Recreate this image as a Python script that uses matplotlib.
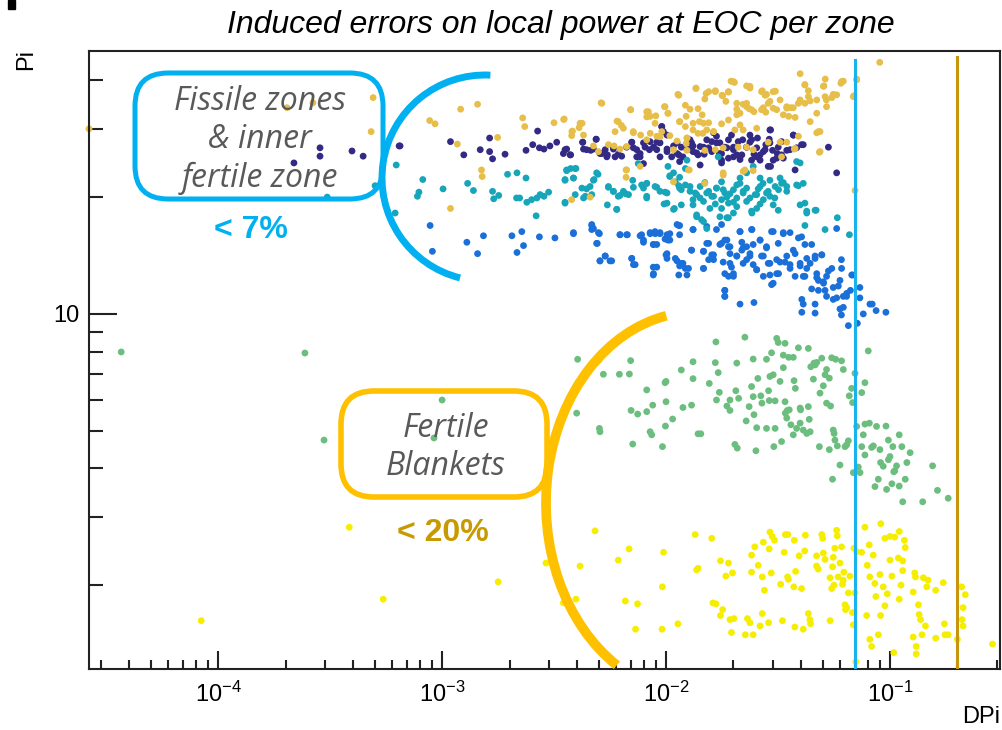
import numpy as np
import matplotlib
matplotlib.use('Agg')
import matplotlib.pyplot as plt
from matplotlib.patches import FancyBboxPatch, Arc, Rectangle
from matplotlib.ticker import LogLocator, NullFormatter, FuncFormatter

plt.rcParams['font.family'] = ['Liberation Sans', 'DejaVu Sans']
plt.rcParams['mathtext.fontset'] = 'custom'
plt.rcParams['mathtext.rm'] = 'Liberation Sans'

# (DPi, Pi) per zone
fissile_outer = [
    (0.00088, 31.5), (0.00093, 30.9), (0.00121, 33.7), (0.00144, 34.7), (0.00229, 32.0), (0.00234, 30.4),
    (0.00316, 31.1), (0.00349, 31.7), (0.00422, 31.0), (0.00409, 30.2), (0.00382, 29.6), (0.00379, 28.8),
    (0.00513, 35.0), (0.00695, 33.6), (0.00604, 31.4), (0.00632, 30.6), (0.00834, 33.2), (0.0082, 32.2),
    (0.0090, 32.4), (0.0102, 32.9), (0.00984, 34.2), (0.0113, 36.8), (0.0136, 38.1), (0.0155, 37.4),
    (0.0166, 37.6), (0.0149, 35.8), (0.0122, 34.5), (0.0128, 33.7), (0.0139, 33.8), (0.0145, 32.6),
    (0.0123, 32.3), (0.0115, 31.3), (0.0132, 31.0), (0.0147, 31.0), (0.0178, 36.6), (0.0190, 37.3),
    (0.0195, 39.8), (0.0202, 39.5), (0.0229, 38.7), (0.0237, 38.2), (0.0269, 37.6), (0.0281, 36.8),
    (0.0308, 37.5), (0.0397, 41.6), (0.0417, 39.0), (0.0432, 37.6), (0.0514, 40.3), (0.0507, 38.7),
    (0.0604, 39.3), (0.0619, 39.8), (0.0710, 40.3), (0.0900, 44.5), (0.0690, 36.5), (0.0578, 36.7),
    (0.0550, 36.1), (0.0520, 35.6), (0.0471, 35.6), (0.0440, 35.4), (0.0417, 34.9), (0.0397, 35.6),
    (0.0390, 34.9), (0.0361, 34.0), (0.0346, 33.9), (0.0334, 32.6), (0.0377, 32.1), (0.0353, 32.3),
    (0.0291, 35.3), (0.0301, 33.9), (0.0267, 33.6), (0.0279, 33.1), (0.0247, 33.2), (0.0235, 33.8),
    (0.0229, 34.9), (0.0221, 34.7), (0.0207, 33.7), (0.0207, 32.6), (0.0214, 30.7), (0.0203, 29.8),
    (0.0190, 31.6), (0.0177, 30.9), (0.0163, 29.5), (0.0152, 29.8), (0.0139, 29.2), (0.0132, 29.8),
    (0.0124, 28.4), (0.0123, 27.5), (0.0112, 27.9), (0.0104, 28.8), (0.00957, 29.5), (0.0091, 28.7),
    (0.0085, 29.2), (0.0082, 28.1), (0.0077, 28.9), (0.00715, 29.3), (0.00667, 27.0), (0.00623, 26.6),
    (0.00586, 27.1), (0.00553, 27.3), (0.00499, 26.2), (0.00474, 27.1), (0.0390, 28.7), (0.0374, 26.6),
    (0.0346, 27.7), (0.0323, 27.7), (0.0286, 27.7), (0.0245, 26.5), (0.0229, 26.9), (0.0210, 26.9),
    (0.0180, 26.8), (0.0166, 26.5), (0.0149, 26.4), (0.0124, 26.4), (0.0108, 26.5), (0.0487, 29.5),
    (0.0471, 29.3), (0.0484, 26.1), (0.0698, 20.8), (0.0245, 23.4), (0.0221, 23.3), (0.0180, 22.8),
    (0.0149, 21.7), (0.0126, 23.5), (0.0108, 21.9), (0.00667, 23.5), (0.00458, 20.0), (0.00379, 19.7),
    (0.00150, 23.5), (0.00151, 22.6), (0.00109, 18.7), (0.00117, 27.4), (0.00177, 28.5), (0.000203, 34.0),
    (0.000265, 35.0), (0.000492, 36.1), (0.000482, 29.5), (0.0000265, 30.0),
    (0.00351, 31.8), (0.00380, 29.5), (0.00413, 31.0), (0.00428, 28.9), (0.00517, 34.9), (0.00592, 29.5),
    (0.00612, 31.3), (0.00645, 30.1), (0.00695, 33.6), (0.00714, 29.5), (0.0082, 33.2), (0.00849, 32.3),
    (0.00893, 31.0), (0.0094, 28.6), (0.0099, 34.2), (0.0102, 32.9), (0.0114, 36.6), (0.0115, 31.3),
    (0.0122, 30.4), (0.0124, 28.4), (0.0136, 38.2), (0.0141, 31.3), (0.0146, 29.2), (0.0151, 37.0),
    (0.0155, 31.1), (0.0163, 29.5), (0.0166, 37.4), (0.0179, 36.5), (0.0185, 35.3), (0.0190, 37.4),
    (0.0200, 39.7), (0.0207, 34.9), (0.0214, 32.9), (0.0221, 29.8), (0.0229, 34.2), (0.0237, 38.6),
    (0.0241, 33.6), (0.0254, 30.1), (0.0267, 37.4), (0.0277, 36.6), (0.0272, 34.0), (0.0286, 34.9),
    (0.0301, 37.4), (0.0312, 33.6), (0.0323, 35.6), (0.0346, 34.2), (0.0370, 34.0), (0.0397, 35.3),
    (0.0417, 38.9), (0.0432, 36.3), (0.0440, 31.3), (0.0471, 32.9), (0.0479, 29.5), (0.0504, 38.6),
    (0.0513, 36.3), (0.0521, 34.2), (0.0558, 36.8), (0.0608, 39.7), (0.0686, 36.3), (0.0710, 40.1),
    (0.0487, 26.2), (0.0377, 26.7), (0.0328, 25.4), (0.00766, 24.0), (0.00663, 23.5), (0.00663, 22.5),
    (0.0127, 23.5), (0.0180, 23.1), (0.0225, 23.5),
]

fissile_inner = [
    (6.49e-4, 27.1), (1.09e-3, 27.8), (1.25e-3, 25.7), (1.48e-3, 26.5), (1.63e-3, 28.4), (1.63e-3, 26.2),
    (1.68e-3, 25.1), (1.91e-3, 25.8), (2.37e-3, 26.4), (2.54e-3, 27.3), (2.67e-3, 29.6), (2.72e-3, 26.8),
    (2.85e-3, 26.6), (3.03e-3, 27.1), (3.25e-3, 27.7), (3.48e-3, 25.9), (3.60e-3, 26.6), (3.75e-3, 25.7),
    (4.25e-3, 27.7), (4.28e-3, 26.6), (4.61e-3, 26.4), (4.87e-3, 28.2), (5.07e-3, 25.9), (5.35e-3, 26.5),
    (5.47e-3, 25.7), (5.92e-3, 25.4), (6.34e-3, 25.5), (7.03e-3, 27.7), (7.40e-3, 25.4), (7.66e-3, 25.9),
    (7.93e-3, 24.4), (8.43e-3, 26.5), (8.79e-3, 26.9), (9.09e-3, 27.7), (9.57e-3, 30.4), (9.66e-3, 29.5),
    (1.01e-2, 26.2), (1.08e-2, 27.1), (1.14e-2, 25.7), (1.19e-2, 25.4), (1.27e-2, 26.6), (1.32e-2, 27.1),
    (1.37e-2, 26.0), (1.42e-2, 27.0), (1.48e-2, 25.8), (1.55e-2, 26.8), (1.63e-2, 29.3), (1.68e-2, 28.7),
    (1.73e-2, 25.9), (1.77e-2, 24.9), (1.87e-2, 26.8), (1.90e-2, 28.1), (1.96e-2, 28.9), (2.00e-2, 26.9),
    (2.07e-2, 25.7), (2.14e-2, 25.0), (2.20e-2, 28.1), (2.29e-2, 26.9), (2.37e-2, 27.7), (2.47e-2, 25.8),
    (2.56e-2, 28.4), (2.63e-2, 24.9), (2.79e-2, 27.3), (2.93e-2, 29.8), (2.89e-2, 28.2), (2.99e-2, 26.4),
    (3.14e-2, 25.9), (2.93e-2, 24.0), (3.12e-2, 25.2), (3.28e-2, 27.8), (3.46e-2, 26.4), (3.71e-2, 28.9),
    (3.83e-2, 26.8), (4.10e-2, 27.3), (3.77e-2, 23.5), (5.31e-2, 26.9), (5.78e-2, 23.1), (1.01e-2, 28.9),
    (1.12e-2, 27.6), (1.28e-2, 28.1), (7.15e-3, 26.8), (7.93e-3, 27.6), (5.82e-3, 26.9), (9.40e-3, 25.4),
    (2.00e-2, 25.4), (1.60e-2, 27.8), (2.72e-2, 26.2), (3.34e-2, 25.2), (2.37e-2, 28.9), (1.74e-2, 27.6),
    (2.54e-2, 25.4), (2.85e-4, 26.8), (2.85e-4, 25.5), (3.96e-4, 26.3), (4.44e-4, 25.5), (2.18e-4, 24.5),
    (6.43e-4, 27.1),
    (3.54e-3, 26.5), (3.73e-3, 25.7), (4.24e-3, 27.7), (4.42e-3, 26.5), (4.74e-3, 26.6), (4.88e-3, 28.2),
    (5.17e-3, 25.9), (5.44e-3, 25.4), (5.82e-3, 26.6), (6.12e-3, 25.8), (6.67e-3, 26.9), (7.03e-3, 27.7),
    (7.40e-3, 26.5), (7.66e-3, 25.4), (8.06e-3, 26.9), (8.49e-3, 27.8), (9.09e-3, 26.5), (9.40e-3, 27.6),
    (9.57e-3, 30.4), (9.73e-3, 29.5), (1.01e-2, 26.6), (1.06e-2, 25.4), (1.12e-2, 25.9), (1.17e-2, 26.9),
    (1.24e-2, 26.5), (1.30e-2, 27.6), (1.32e-2, 26.2), (1.39e-2, 25.7), (1.47e-2, 26.9), (1.52e-2, 28.1),
    (1.60e-2, 26.2), (1.68e-2, 27.6), (1.77e-2, 25.9), (1.83e-2, 26.9), (1.90e-2, 25.2), (2.00e-2, 26.5),
    (2.10e-2, 27.8), (2.18e-2, 25.7), (2.29e-2, 26.9), (2.41e-2, 28.1), (2.54e-2, 26.8), (2.63e-2, 25.7),
    (2.77e-2, 26.5), (2.91e-2, 29.8), (2.91e-2, 27.6), (3.01e-2, 24.9), (3.17e-2, 26.9), (3.28e-2, 25.7),
    (3.58e-2, 26.5), (3.70e-2, 28.9), (4.03e-2, 27.3), (2.86e-2, 24.0), (1.77e-2, 24.5), (1.42e-2, 24.2),
    (1.15e-2, 24.7), (2.41e-2, 24.9),
]

fissile_mid = [
    (8.2e-4, 22.2), (7.88e-4, 20.6), (7.76e-4, 20.1), (1.01e-3, 21.0), (1.30e-3, 21.7), (1.38e-3, 20.8),
    (1.68e-3, 20.7), (1.70e-3, 19.8), (1.79e-3, 20.2), (1.96e-3, 22.9), (2.16e-3, 23.1), (2.37e-3, 22.4),
    (2.15e-3, 19.9), (2.22e-3, 19.9), (2.39e-3, 19.4), (2.51e-3, 19.7), (2.65e-3, 19.9), (2.74e-3, 20.3),
    (2.85e-3, 20.1), (2.99e-3, 20.6), (2.63e-3, 17.9), (3.54e-3, 19.3), (3.60e-3, 23.5), (3.75e-3, 23.7),
    (3.96e-3, 23.7), (3.54e-3, 22.2), (3.86e-3, 22.4), (4.21e-3, 21.1), (4.36e-3, 20.1), (4.58e-3, 21.3),
    (4.77e-3, 22.2), (4.97e-3, 22.9), (5.53e-3, 21.2), (5.47e-3, 19.1), (5.82e-3, 20.7), (6.03e-3, 18.6),
    (6.23e-3, 20.2), (6.61e-3, 20.4), (7.10e-3, 22.1), (7.15e-3, 21.2), (7.51e-3, 24.4), (7.93e-3, 21.1),
    (8.2e-3, 21.7), (8.2e-3, 20.1), (9.09e-3, 21.2), (9.90e-3, 20.6), (9.80e-3, 19.2), (1.04e-2, 22.7),
    (1.02e-2, 24.0), (1.08e-2, 23.1), (1.09e-2, 18.7), (1.14e-2, 21.4), (1.17e-2, 20.9), (1.22e-2, 23.7),
    (1.24e-2, 24.9), (1.28e-2, 21.3), (1.35e-2, 20.5), (1.32e-2, 19.1), (1.37e-2, 18.0), (1.42e-2, 19.9),
    (1.44e-2, 17.5), (1.49e-2, 21.8), (1.55e-2, 20.7), (1.60e-2, 20.1), (1.66e-2, 19.2), (1.68e-2, 21.1),
    (1.71e-2, 25.4), (1.77e-2, 21.9), (1.80e-2, 20.9), (1.87e-2, 20.0), (1.93e-2, 20.4), (2.00e-2, 19.4),
    (2.07e-2, 21.5), (2.07e-2, 18.9), (2.14e-2, 22.4), (2.21e-2, 20.7), (2.29e-2, 21.1), (2.37e-2, 19.9),
    (2.42e-2, 18.2), (2.50e-2, 20.3), (2.58e-2, 21.0), (2.63e-2, 19.2), (2.71e-2, 21.7), (2.81e-2, 20.5),
    (2.91e-2, 20.1), (3.01e-2, 19.1), (3.07e-2, 21.3), (3.18e-2, 20.9), (3.23e-2, 22.4), (3.34e-2, 21.8),
    (3.46e-2, 21.3), (3.83e-2, 24.7), (3.90e-2, 21.4), (3.97e-2, 19.1), (4.10e-2, 21.7), (4.25e-2, 18.2),
    (4.17e-2, 16.9), (4.68e-2, 18.5), (5.13e-2, 16.5), (5.82e-2, 17.7), (6.59e-2, 16.0), (2.29e-2, 23.1),
    (2.45e-2, 24.0), (2.63e-2, 22.4), (2.00e-2, 18.2), (1.74e-2, 17.8), (1.90e-2, 17.7), (1.15e-2, 22.5),
    (5.02e-4, 21.4), (3.07e-4, 20.0), (6.24e-4, 24.2), (6.17e-4, 18.2),
    (3.54e-3, 22.1), (3.60e-3, 23.4), (3.93e-3, 23.7), (3.86e-3, 22.4), (3.54e-3, 19.4), (3.93e-3, 20.3),
    (4.28e-3, 19.9), (4.42e-3, 21.0), (4.66e-3, 20.3), (4.90e-3, 23.1), (4.74e-3, 22.1), (5.53e-3, 21.3),
    (5.82e-3, 20.7), (6.12e-3, 20.1), (6.45e-3, 20.7), (6.80e-3, 20.3), (6.02e-3, 18.6), (7.78e-3, 21.5),
    (8.20e-3, 21.7), (8.20e-3, 19.9), (8.93e-3, 21.3), (9.40e-3, 20.7), (1.01e-2, 20.5), (1.01e-2, 19.3),
    (1.08e-2, 18.6), (1.04e-2, 22.6), (1.10e-2, 21.9), (1.15e-2, 21.1), (1.22e-2, 21.5), (1.28e-2, 20.7),
    (1.32e-2, 19.7), (1.37e-2, 20.3), (1.42e-2, 21.3), (1.47e-2, 19.5), (1.52e-2, 20.5), (1.57e-2, 18.7),
    (1.63e-2, 20.1), (1.68e-2, 21.1), (1.77e-2, 19.7), (1.83e-2, 20.5), (1.90e-2, 19.3), (2.00e-2, 20.9),
    (2.07e-2, 19.9), (2.14e-2, 21.7), (2.21e-2, 20.5), (2.29e-2, 19.5), (2.41e-2, 18.4), (2.54e-2, 20.3),
    (2.63e-2, 21.3), (2.72e-2, 19.7), (2.86e-2, 20.7), (2.91e-2, 22.1), (3.06e-2, 19.9), (3.17e-2, 18.5),
    (3.28e-2, 21.7), (3.46e-2, 20.7), (3.83e-2, 21.5), (3.97e-2, 24.5), (4.17e-2, 19.3), (4.25e-2, 18.4),
    (4.63e-2, 18.5), (1.37e-2, 17.8), (1.47e-2, 17.3), (1.52e-2, 16.6), (1.87e-2, 17.7), (1.77e-2, 18.7),
    (2.54e-2, 18.7), (1.17e-2, 19.1),
]

inner_fertile = [
    (8.84e-4, 16.9), (9.05e-4, 14.5), (1.29e-3, 15.3), (1.44e-3, 14.3), (1.53e-3, 15.9), (2.05e-3, 15.9),
    (2.16e-3, 14.4), (2.27e-3, 16.3), (2.31e-3, 15.0), (2.72e-3, 15.8), (3.19e-3, 15.7), (3.86e-3, 16.1),
    (4.66e-3, 17.0), (4.74e-3, 16.6), (5.04e-3, 16.1), (4.93e-3, 15.2), (5.07e-3, 13.7), (5.35e-3, 14.1),
    (5.62e-3, 13.7), (6.23e-3, 16.0), (6.72e-3, 16.0), (7.03e-3, 13.9), (7.15e-3, 13.4), (7.78e-3, 16.0),
    (7.93e-3, 15.3), (8.5e-3, 16.1), (8.79e-3, 15.1), (8.96e-3, 16.1), (9.09e-3, 13.2), (8.79e-3, 12.7),
    (9.40e-3, 16.1), (9.90e-3, 15.6), (1.01e-2, 14.3), (1.01e-2, 13.9), (1.04e-2, 16.1), (1.12e-2, 17.0),
    (1.15e-2, 16.9), (1.15e-2, 16.0), (1.12e-2, 13.7), (1.17e-2, 13.5), (1.22e-2, 13.1), (1.24e-2, 12.6),
    (1.30e-2, 14.6), (1.32e-2, 16.5), (1.47e-2, 14.5), (1.47e-2, 13.1), (1.52e-2, 16.8), (1.55e-2, 15.2),
    (1.60e-2, 14.2), (1.63e-2, 13.8), (1.77e-2, 17.0), (1.77e-2, 15.2), (1.83e-2, 15.5), (1.90e-2, 14.9),
    (1.93e-2, 14.3), (1.93e-2, 13.5), (2.00e-2, 12.7), (1.90e-2, 12.5), (1.83e-2, 11.5), (1.83e-2, 11.1),
    (2.07e-2, 14.1), (2.14e-2, 16.3), (2.18e-2, 15.3), (2.21e-2, 14.8), (2.29e-2, 13.8), (2.37e-2, 14.3),
    (2.42e-2, 16.5), (2.45e-2, 15.1), (2.54e-2, 13.0), (2.63e-2, 15.5), (2.72e-2, 14.1), (2.81e-2, 14.9),
    (2.86e-2, 13.5), (2.91e-2, 12.6), (2.96e-2, 11.9), (3.01e-2, 16.3), (3.12e-2, 13.8), (3.18e-2, 12.7),
    (3.34e-2, 16.1), (3.40e-2, 13.6), (3.58e-2, 16.2), (3.58e-2, 13.4), (3.77e-2, 14.3), (3.90e-2, 15.7),
    (3.97e-2, 13.3), (4.10e-2, 12.5), (4.17e-2, 15.1), (4.25e-2, 13.9), (4.40e-2, 13.5), (4.63e-2, 14.1),
    (4.71e-2, 12.7), (4.79e-2, 12.2), (4.96e-2, 14.2), (5.05e-2, 12.0), (5.13e-2, 11.5), (5.21e-2, 12.5),
    (5.50e-2, 13.1), (5.58e-2, 11.7), (5.78e-2, 16.6), (5.78e-2, 11.0), (5.98e-2, 12.2), (6.07e-2, 13.8),
    (6.19e-2, 11.1), (6.41e-2, 11.3), (6.75e-2, 12.6), (6.66e-2, 11.5), (2.14e-2, 10.6), (2.47e-2, 10.7),
    (4.04e-2, 10.9), (4.04e-2, 10.1), (4.63e-2, 10.6), (4.63e-2, 10.05), (5.98e-2, 10.3), (6.07e-2, 9.94),
    (6.52e-2, 9.33), (7.15e-2, 9.46), (7.34e-2, 11.7), (7.34e-2, 11.0), (7.60e-2, 10.0), (8.14e-2, 10.6),
    (8.33e-2, 10.6), (8.67e-2, 10.2), (9.59e-2, 10.1),
    (3.86e-3, 16.2), (4.66e-3, 16.9), (4.66e-3, 16.5), (4.99e-3, 16.2), (4.90e-3, 15.2), (5.35e-3, 14.1),
    (5.07e-3, 13.7), (5.72e-3, 13.7), (6.23e-3, 16.0), (6.67e-3, 16.0), (7.03e-3, 13.9), (7.28e-3, 13.4),
    (7.66e-3, 15.9), (7.93e-3, 15.5), (8.49e-3, 16.2), (8.93e-3, 16.3), (8.77e-3, 15.1), (9.09e-3, 15.1),
    (8.77e-3, 13.2), (8.77e-3, 12.6), (9.40e-3, 16.2), (1.01e-2, 16.0), (1.02e-2, 15.5), (1.00e-2, 14.2),
    (1.04e-2, 15.5), (1.10e-2, 13.9), (1.14e-2, 16.9), (1.14e-2, 12.6), (1.15e-2, 13.3), (1.19e-2, 13.5),
    (1.26e-2, 13.1), (1.30e-2, 14.6), (1.32e-2, 16.5), (1.47e-2, 14.5), (1.47e-2, 13.1), (1.52e-2, 15.2),
    (1.55e-2, 13.8), (1.63e-2, 14.2), (1.68e-2, 16.5), (1.74e-2, 15.1), (1.80e-2, 13.6), (1.83e-2, 12.7),
    (1.83e-2, 11.5), (1.83e-2, 11.1), (1.87e-2, 15.5), (1.93e-2, 14.9), (1.96e-2, 13.2), (2.00e-2, 12.5),
    (2.07e-2, 14.1), (2.14e-2, 16.3), (2.18e-2, 14.6), (2.21e-2, 13.5), (2.29e-2, 14.9), (2.37e-2, 14.1),
    (2.41e-2, 16.5), (2.45e-2, 13.4), (2.54e-2, 13.0), (2.63e-2, 15.5), (2.67e-2, 14.1), (2.72e-2, 12.5),
    (2.81e-2, 14.8), (2.91e-2, 13.5), (2.96e-2, 16.3), (3.01e-2, 12.0), (3.12e-2, 12.7), (3.17e-2, 15.2),
    (3.23e-2, 13.6), (3.34e-2, 16.2), (3.46e-2, 14.1), (3.58e-2, 13.1), (3.70e-2, 14.6), (3.77e-2, 12.5),
    (3.97e-2, 13.5), (4.03e-2, 15.8), (4.10e-2, 10.6), (4.17e-2, 12.5), (4.25e-2, 13.1), (4.47e-2, 11.6),
    (4.47e-2, 15.1), (4.63e-2, 13.9), (4.71e-2, 12.4), (4.79e-2, 11.5), (4.96e-2, 14.2), (5.04e-2, 12.1),
    (5.21e-2, 11.1), (5.31e-2, 12.9), (5.58e-2, 10.9), (5.88e-2, 11.8), (6.08e-2, 13.1), (6.19e-2, 10.4),
    (6.40e-2, 11.1), (6.81e-2, 12.6),
]

blanket_inner = [
    (4.03e-3, 7.64), (5.01e-3, 7.61), (5.25e-3, 6.99), (6.19e-3, 6.99), (6.86e-3, 7.00), (6.95e-3, 7.58),
    (3.99e-3, 5.55), (5.04e-3, 5.07), (5.07e-3, 4.97), (7.10e-3, 4.62), (6.98e-3, 5.64), (7.47e-3, 5.52),
    (8.20e-3, 5.60), (8.20e-3, 6.37), (8.72e-3, 5.82), (8.49e-3, 4.97), (8.63e-3, 4.88), (9.64e-3, 4.55),
    (9.94e-3, 5.14), (1.00e-2, 5.94), (9.90e-3, 6.65), (1.00e-2, 6.70), (1.07e-2, 5.36), (1.17e-2, 7.17),
    (1.19e-2, 5.74), (1.30e-2, 5.82), (1.32e-2, 6.81), (1.32e-2, 7.53), (1.39e-2, 4.91), (1.43e-2, 4.91),
    (1.56e-2, 6.62), (1.66e-2, 7.49), (1.67e-2, 8.47), (1.68e-2, 6.00), (1.71e-2, 7.06), (1.73e-2, 6.28),
    (1.87e-2, 5.79), (1.93e-2, 5.64), (1.93e-2, 6.00), (2.03e-2, 4.61), (2.08e-2, 4.51), (2.05e-2, 6.34),
    (2.07e-2, 7.47), (2.11e-2, 6.06), (2.25e-2, 8.71), (2.28e-2, 5.30), (2.35e-2, 5.77), (2.41e-2, 6.50),
    (2.45e-2, 7.65), (2.45e-2, 6.12), (2.47e-2, 5.50), (2.52e-2, 4.44), (2.54e-2, 5.09), (2.57e-2, 6.82),
    (2.65e-2, 6.15), (2.68e-2, 5.89), (2.81e-2, 7.64), (2.81e-2, 5.07), (2.87e-2, 6.34), (2.89e-2, 5.98),
    (2.91e-2, 6.90), (2.96e-2, 7.94), (3.01e-2, 6.97), (3.03e-2, 4.55), (3.07e-2, 5.97), (3.07e-2, 5.07),
    (3.12e-2, 8.65), (3.17e-2, 8.44), (3.23e-2, 6.70), (3.28e-2, 4.69), (3.34e-2, 7.83), (3.34e-2, 7.27),
    (3.40e-2, 8.40), (3.40e-2, 5.94), (3.41e-2, 5.55), (3.46e-2, 5.39), (3.48e-2, 5.64), (3.53e-2, 7.73),
    (3.55e-2, 5.66), (3.61e-2, 5.18), (3.70e-2, 7.73), (3.70e-2, 4.88), (3.73e-2, 6.73), (3.78e-2, 6.43),
    (3.83e-2, 5.07), (3.90e-2, 8.18), (3.97e-2, 5.72), (3.97e-2, 5.23), (3.99e-2, 5.66), (4.10e-2, 5.02),
    (4.25e-2, 4.92), (4.32e-2, 8.15), (4.32e-2, 5.77), (4.36e-2, 5.35), (4.40e-2, 4.97), (4.43e-2, 7.31),
    (4.55e-2, 6.79), (4.58e-2, 7.47), (4.63e-2, 7.39), (4.71e-2, 7.50), (4.84e-2, 4.55), (4.87e-2, 6.25),
    (4.96e-2, 7.69), (5.04e-2, 6.53), (5.13e-2, 6.97), (5.21e-2, 7.19), (5.21e-2, 5.89), (5.36e-2, 6.83),
    (5.36e-2, 4.47), (5.43e-2, 5.79), (5.54e-2, 3.75), (5.58e-2, 5.02), (5.49e-2, 7.71), (5.72e-2, 7.64),
    (5.63e-2, 4.92), (5.68e-2, 4.73), (5.82e-2, 4.57), (5.98e-2, 4.08), (6.08e-2, 7.57), (6.19e-2, 7.19),
    (6.30e-2, 4.55), (6.41e-2, 4.60), (6.52e-2, 4.71), (6.58e-2, 6.15), (6.74e-2, 6.43), (6.81e-2, 5.91),
    (6.86e-2, 3.90), (6.98e-2, 7.03), (7.10e-2, 5.13), (7.22e-2, 4.03), (7.35e-2, 3.90), (7.48e-2, 6.27),
    (7.48e-2, 4.55), (7.60e-2, 4.88), (7.73e-2, 6.65), (7.73e-2, 5.20), (7.73e-2, 4.33), (8.00e-2, 8.03),
    (8.09e-2, 5.23), (8.28e-2, 4.53), (8.43e-2, 4.57), (8.57e-2, 3.59), (8.71e-2, 5.13), (8.87e-2, 3.75),
    (9.02e-2, 4.47), (9.08e-2, 4.14), (9.33e-2, 4.05), (9.60e-2, 5.14), (9.66e-2, 3.53), (9.84e-2, 4.73),
    (9.84e-2, 4.21), (0.100, 4.29), (0.102, 3.65), (0.103, 4.55), (0.104, 3.92), (0.105, 3.94),
    (0.107, 4.06), (0.110, 4.88), (0.110, 3.60), (0.113, 4.55), (0.114, 3.28), (0.117, 3.75),
    (0.119, 4.14), (0.123, 4.39), (0.140, 3.28), (0.155, 4.06), (0.163, 3.51), (0.182, 3.35),
    (3.69e-5, 7.98), (2.44e-4, 7.93), (2.97e-4, 4.73), (1.00e-3, 6.00), (9.2e-4, 4.79),
]

blanket_outer = [
    (3.48e-3, 1.80), (3.96e-3, 1.84), (4.13e-3, 2.24), (4.82e-3, 2.76), (6.12e-3, 2.32), (6.58e-3, 1.82),
    (6.84e-3, 2.48), (7.31e-3, 1.54), (7.46e-3, 1.79), (9.63e-3, 1.98), (9.60e-3, 1.54), (9.75e-3, 2.43),
    (1.13e-2, 1.59), (1.35e-2, 2.70), (1.37e-2, 2.19), (1.39e-2, 2.21), (1.60e-2, 2.64), (1.62e-2, 1.80),
    (1.67e-2, 1.79), (1.75e-2, 2.31), (1.75e-2, 1.67), (1.79e-2, 1.73), (1.85e-2, 2.11), (1.90e-2, 2.28),
    (1.93e-2, 1.63), (1.96e-2, 1.51), (1.98e-2, 2.15), (2.01e-2, 1.64), (2.26e-2, 1.49), (2.31e-2, 1.64),
    (2.37e-2, 1.60), (2.41e-2, 2.39), (2.41e-2, 2.16), (2.45e-2, 1.49), (2.49e-2, 2.51), (2.58e-2, 2.25),
    (2.63e-2, 1.57), (2.69e-2, 2.10), (2.69e-2, 1.69), (2.72e-2, 2.58), (2.75e-2, 1.94), (2.87e-2, 1.60),
    (2.89e-2, 2.48), (2.91e-2, 2.74), (2.95e-2, 2.15), (2.98e-2, 2.67), (3.05e-2, 2.61), (3.25e-2, 2.01),
    (3.31e-2, 1.62), (3.37e-2, 2.43), (3.41e-2, 2.70), (3.50e-2, 2.70), (3.49e-2, 2.10), (3.52e-2, 2.07),
    (3.72e-2, 1.98), (3.74e-2, 2.61), (3.76e-2, 1.56), (3.79e-2, 2.17), (3.93e-2, 2.38), (4.03e-2, 1.96),
    (4.10e-2, 1.54), (4.16e-2, 2.45), (4.19e-2, 2.69), (4.32e-2, 1.69), (4.39e-2, 1.63), (4.42e-2, 1.59),
    (4.70e-2, 2.38), (4.70e-2, 2.24), (4.78e-2, 2.20), (4.96e-2, 2.70), (5.01e-2, 2.64), (5.04e-2, 2.42),
    (5.13e-2, 2.33), (5.40e-2, 2.09), (5.40e-2, 1.62), (5.49e-2, 1.96), (5.54e-2, 2.23), (5.58e-2, 2.36),
    (5.62e-2, 2.00), (5.67e-2, 2.49), (5.78e-2, 2.77), (5.82e-2, 2.68), (5.87e-2, 2.10), (5.98e-2, 2.28),
    (6.08e-2, 2.51), (6.14e-2, 2.01), (6.19e-2, 2.06), (6.22e-2, 2.16), (6.30e-2, 1.78), (6.33e-2, 1.73),
    (6.41e-2, 1.75), (6.52e-2, 1.91), (6.62e-2, 2.11), (6.80e-2, 1.70), (6.86e-2, 1.58), (6.90e-2, 2.49),
    (6.98e-2, 1.91), (7.04e-2, 1.27), (7.10e-2, 2.44), (7.47e-2, 2.43), (7.73e-2, 2.82), (7.87e-2, 1.67),
    (7.92e-2, 2.25), (8.08e-2, 2.54), (8.13e-2, 2.10), (8.13e-2, 1.45), (8.28e-2, 1.39), (8.42e-2, 2.39),
    (8.56e-2, 2.02), (8.65e-2, 1.87), (8.87e-2, 1.49), (9.02e-2, 2.13), (9.10e-2, 2.88), (9.08e-2, 1.67),
    (9.33e-2, 1.98), (9.49e-2, 2.64), (9.49e-2, 1.77), (9.73e-2, 1.90), (0.100, 2.67), (0.100, 2.32),
    (0.102, 2.11), (0.104, 1.34), (0.105, 2.66), (0.109, 2.35), (0.110, 2.75), (0.110, 1.84),
    (0.112, 2.00), (0.114, 2.18), (0.116, 2.61), (0.117, 2.50), (0.114, 2.31), (0.127, 1.92),
    (0.127, 1.47), (0.129, 2.15), (0.130, 2.10), (0.131, 1.33), (0.131, 1.39), (0.134, 1.78),
    (0.135, 1.68), (0.137, 1.63), (0.139, 1.49), (0.141, 2.09), (0.144, 1.57), (0.146, 1.98),
    (0.148, 2.06), (0.160, 1.94), (0.160, 1.46), (0.173, 2.03), (0.175, 1.59), (0.176, 1.49),
    (0.182, 1.49), (0.200, 1.45), (0.209, 1.98), (0.217, 1.89), (0.212, 1.75), (0.210, 1.63),
    (0.212, 1.57), (0.287, 1.41), (8.4e-5, 1.62), (3.85e-4, 2.82), (5.46e-4, 1.84), (1.78e-3, 2.04),
    (2.91e-3, 2.28),
]

zone_colors = {
    'blanket_outer': '#F6EE00',
    'blanket_inner': '#6CBE7E',
    'inner_fertile': '#1B6FD8',
    'fissile_inner': '#332A86',
    'fissile_mid': '#17A5BA',
    'fissile_outer': '#E7BE4A',
}

cut_fissile = 0.07   # < 7 %
cut_blanket = 0.20   # < 20 %

CYAN = '#00B0F0'
ORANGE = '#FFC000'
GOLD_TXT = '#C99A00'
NOTE_GREY = '#595959'

H = 7.30


def at(x, y):
    # pixel position from the top-left corner -> inches
    return x / 100.0, H - y / 100.0


fig = plt.figure(figsize=(10.03, H), dpi=100)
ax = fig.add_axes([89 / 1003, 1 - 669 / 730, 911 / 1003, 618 / 730])
ax.set_xscale('log')
ax.set_yscale('log')
ax.set_xlim(2.65e-5, 0.31)
ax.set_ylim(1.216, 47.6)

series = [('blanket_outer', blanket_outer), ('blanket_inner', blanket_inner),
          ('inner_fertile', inner_fertile), ('fissile_inner', fissile_inner),
          ('fissile_mid', fissile_mid), ('fissile_outer', fissile_outer)]
for i, (name, pts) in enumerate(series):
    xy = np.array(pts)
    ax.scatter(xy[:, 0], xy[:, 1], s=24, c=zone_colors[name], edgecolors='none',
               zorder=2 + i * 0.1, clip_on=False)

ax.axvline(cut_fissile, ymin=0, ymax=0.985, color='#18B2EC', lw=2.2, zorder=4)
ax.axvline(cut_blanket, ymin=0, ymax=0.99, color='#C8960C', lw=2.2, zorder=4)

# axes styling
for sp in ax.spines.values():
    sp.set_linewidth(1.5)
    sp.set_color('#222222')
ax.xaxis.set_major_locator(LogLocator(base=10))
ax.xaxis.set_minor_locator(LogLocator(base=10, subs=np.arange(2, 10)))
ax.xaxis.set_minor_formatter(NullFormatter())
ax.yaxis.set_major_locator(LogLocator(base=10))
ax.yaxis.set_minor_locator(LogLocator(base=10, subs=np.arange(2, 10)))
ax.yaxis.set_major_formatter(FuncFormatter(lambda v, p: f'{v:g}'))
ax.yaxis.set_minor_formatter(NullFormatter())
ax.tick_params(which='both', direction='in', top=False, right=False, width=1.5,
               color='#222222', labelsize=17)
ax.tick_params(axis='x', which='major', length=13, pad=9)
ax.tick_params(axis='x', which='minor', length=6.5)
ax.tick_params(axis='y', which='major', length=20, pad=7)
ax.tick_params(axis='y', which='minor', length=10)

tr = fig.dpi_scale_trans
fig.text(*at(561, 33), 'Induced errors on local power at EOC per zone', transform=tr,
         ha='center', va='baseline', fontsize=23, style='italic')
fig.text(*at(26, 60), 'Pi', transform=tr, rotation=90, ha='center', va='center', fontsize=17)
fig.text(*at(1000, 723), 'DPi', transform=tr, ha='right', va='baseline', fontsize=17)
fig.add_artist(Rectangle(at(8, 9), 0.07, 0.09, transform=tr, color='black'))


def note_lines(lines, x, baselines):
    for txt, yb in zip(lines, baselines):
        fig.text(*at(x, yb), txt, transform=tr, ha='center', va='baseline', fontsize=23,
                 style='italic', color=NOTE_GREY, family='Open Sans', zorder=6)


# fissile / inner fertile annotation
x0, y0 = at(135, 199)
fig.add_artist(FancyBboxPatch((x0, y0), 2.48, 1.26, boxstyle='round,pad=0,rounding_size=0.33',
                              transform=tr, fill=False, ec=CYAN, lw=3.6, zorder=5))
note_lines(['Fissile zones', '& inner', 'fertile zone'], 260, [110, 148, 187])
fig.text(*at(251, 230), '< 7%', transform=tr, ha='center', va='center', fontsize=23,
         weight='bold', color=CYAN)
fig.add_artist(Arc(at(485, 178), 2.06, 2.06, theta1=87, theta2=256, transform=tr,
                   color=CYAN, lw=5, zorder=5))

# fertile blanket annotation
x0, y0 = at(341, 497)
fig.add_artist(FancyBboxPatch((x0, y0), 2.06, 1.06, boxstyle='round,pad=0,rounding_size=0.33',
                              transform=tr, fill=False, ec=ORANGE, lw=4, zorder=5))
note_lines(['Fertile', 'Blankets'], 446, [437, 475])
fig.text(*at(443, 533), '< 20%', transform=tr, ha='center', va='center', fontsize=23,
         weight='bold', color=GOLD_TXT)
fig.add_artist(Arc(at(696, 503), 3.0, 3.82, theta1=99, theta2=244, transform=tr,
                   color=ORANGE, lw=7, zorder=5))

fig.savefig('out.png', dpi=100)
